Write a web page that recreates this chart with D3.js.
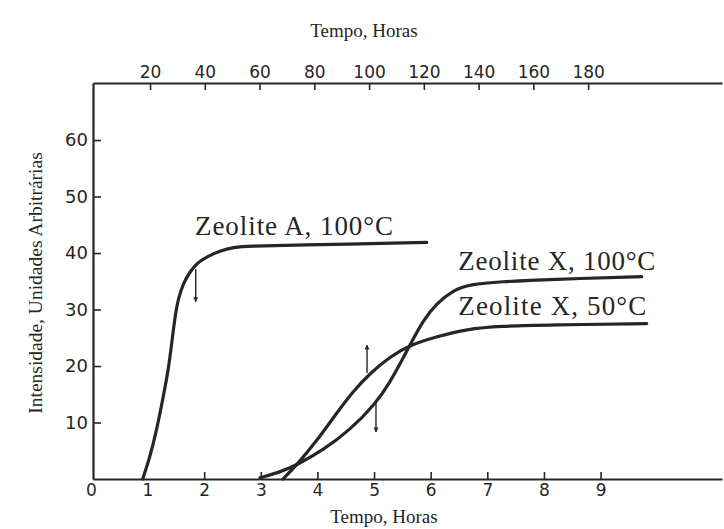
<!DOCTYPE html>
<html>
<head>
<meta charset="utf-8">
<script src="https://cdn.jsdelivr.net/npm/d3@7"></script>
<style>
  body { margin: 0; background: #ffffff; }
  svg { display: block; }
</style>
</head>
<body>
<svg id="chart" width="724" height="529"></svg>
<script>
// ---------------- DATA ----------------
const hourTicks = [0, 1, 2, 3, 4, 5, 6, 7, 8, 9];
const topHourTicks = [20, 40, 60, 80, 100, 120, 140, 160, 180];
const intensityTicks = [10, 20, 30, 40, 50, 60];

const xAxisTitle = "Tempo, Horas";
const topAxisTitle = "Tempo, Horas";
const yAxisTitle = "Intensidade, Unidades Arbitrárias";

const seriesNames = ["Zeolite A, 100°C", "Zeolite X, 100°C", "Zeolite X, 50°C"];

// Zeolite A, 100°C
const zeoliteA100_t = [0.915, 1.044, 1.162, 1.278, 1.367, 1.427, 1.485, 1.543, 1.632, 1.750, 1.868, 2.045, 2.280, 2.515, 2.809, 3.516, 5.930];
const zeoliteA100_v = [0, 3.95, 8.67, 14.57, 19.29, 24.02, 28.73, 31.98, 34.64, 36.69, 38.18, 39.35, 40.41, 41.01, 41.24, 41.36, 41.89];

// Zeolite X, 100°C
const zeoliteX100_t = [2.986, 3.392, 3.634, 4.104, 4.575, 5.034, 5.282, 5.458, 5.635, 5.870, 6.106, 6.399, 6.694, 7.224, 8.107, 9.726];
const zeoliteX100_v = [0.2, 1.42, 2.48, 5.13, 8.67, 13.40, 17.17, 20.35, 23.72, 28.14, 31.10, 33.45, 34.46, 34.92, 35.35, 35.81];

// Zeolite X, 50°C
const zeoliteX50_t = [3.392, 3.634, 3.987, 4.340, 4.634, 4.929, 5.282, 5.635, 6.106, 6.636, 7.224, 8.107, 9.815];
const zeoliteX50_v = [0, 2.48, 6.73, 11.68, 15.58, 18.71, 21.65, 23.72, 25.19, 26.55, 27.08, 27.26, 27.52];

// Arrow annotations (time, from value, to value)
const arrowTimes = [1.851, 4.876, 5.034];
const arrowFrom  = [37.17, 18.76, 13.63];
const arrowTo    = [31.38, 23.72, 8.32];

// ---------------- LAYOUT ----------------
const ink = "#262626";
const svg = d3.select("#chart");

const x = d3.scaleLinear()
  .domain([(93 - 90.9) / 56.63, (722 - 90.9) / 56.63])
  .range([93, 722]);
const xTop = d3.scaleLinear().domain([-0.84, 228.9]).range([93, 722]);
const y = d3.scaleLinear().domain([0, 70.1]).range([479, 83]);

// Bottom axis
const gB = svg.append("g").attr("transform", "translate(0,479)")
  .call(d3.axisBottom(x).tickValues(hourTicks).tickFormat(d3.format("d"))
    .tickSizeInner(-7).tickSizeOuter(0).tickPadding(5));

// Left axis
const gL = svg.append("g").attr("transform", "translate(93,0)")
  .call(d3.axisLeft(y).tickValues(intensityTicks).tickFormat(d3.format("d"))
    .tickSizeInner(-8).tickSizeOuter(0).tickPadding(5));

// Top axis
const gT = svg.append("g").attr("transform", "translate(0,83)")
  .call(d3.axisTop(xTop).tickValues(topHourTicks).tickFormat(d3.format("d"))
    .tickSizeInner(-7).tickSizeOuter(0).tickPadding(5));

[gB, gL, gT].forEach(g => {
  g.select(".domain").attr("stroke", ink).attr("stroke-width", 2.2);
  g.selectAll(".tick line").attr("stroke", ink).attr("stroke-width", 1.6);
  g.selectAll(".tick text")
    .attr("fill", ink)
    .style("font-family", "'DejaVu Sans', sans-serif")
    .style("font-size", "17px");
});
gL.selectAll(".tick text").style("font-size", "18px");
gB.selectAll(".tick line").filter(d => d < 2).remove();

// Axis titles
svg.append("text")
  .attr("x", 364).attr("y", 37)
  .attr("text-anchor", "middle")
  .attr("fill", ink)
  .style("font-family", "'Liberation Serif', 'Times New Roman', serif")
  .style("font-size", "19px")
  .text(topAxisTitle);

svg.append("text")
  .attr("x", 384).attr("y", 523)
  .attr("text-anchor", "middle")
  .attr("fill", ink)
  .style("font-family", "'Liberation Serif', 'Times New Roman', serif")
  .style("font-size", "19px")
  .text(xAxisTitle);

svg.append("text")
  .attr("transform", "translate(42,283) rotate(-90)")
  .attr("text-anchor", "middle")
  .attr("fill", ink)
  .style("font-family", "'Liberation Serif', 'Times New Roman', serif")
  .style("font-size", "19.5px")
  .text(yAxisTitle);

// Curves
const series = [
  { name: seriesNames[0], t: zeoliteA100_t, v: zeoliteA100_v },
  { name: seriesNames[1], t: zeoliteX100_t, v: zeoliteX100_v },
  { name: seriesNames[2], t: zeoliteX50_t, v: zeoliteX50_v }
];

const line = d3.line()
  .x(d => x(d[0]))
  .y(d => y(d[1]))
  .curve(d3.curveBasis);

svg.append("g").selectAll("path")
  .data(series)
  .join("path")
  .attr("d", s => line(s.t.map((t, i) => [t, s.v[i]])))
  .attr("fill", "none")
  .attr("stroke", ink)
  .attr("stroke-width", 3.2)
  .attr("stroke-linecap", "round")
  .attr("stroke-linejoin", "round");

// Arrows
svg.append("defs").append("marker")
  .attr("id", "head")
  .attr("viewBox", "0 0 10 10")
  .attr("refX", 9).attr("refY", 5)
  .attr("markerWidth", 5).attr("markerHeight", 7)
  .attr("markerUnits", "userSpaceOnUse")
  .attr("orient", "auto")
  .append("path")
  .attr("d", "M0,0 L10,5 L0,10 Z")
  .attr("fill", ink);

svg.append("g").selectAll("line")
  .data(arrowTimes.map((t, i) => ({ t, a: arrowFrom[i], b: arrowTo[i] })))
  .join("line")
  .attr("x1", d => x(d.t)).attr("x2", d => x(d.t))
  .attr("y1", d => y(d.a)).attr("y2", d => y(d.b))
  .attr("stroke", ink)
  .attr("stroke-width", 1.4)
  .attr("marker-end", "url(#head)");

// Series labels
const labelAnchors = [
  { t: 1.838, v: 43.19, len: 198 },
  { t: 6.488, v: 36.99, len: 197 },
  { t: 6.488, v: 29.03, len: 188 }
];
svg.append("g").selectAll("text")
  .data(series.map((s, i) => ({ name: s.name, ...labelAnchors[i] })))
  .join("text")
  .attr("x", d => x(d.t))
  .attr("y", d => y(d.v))
  .attr("textLength", d => d.len)
  .attr("lengthAdjust", "spacing")
  .attr("fill", ink)
  .style("font-family", "'Liberation Serif', 'Times New Roman', serif")
  .style("font-size", "27px")
  .text(d => d.name);
</script>
</body>
</html>
